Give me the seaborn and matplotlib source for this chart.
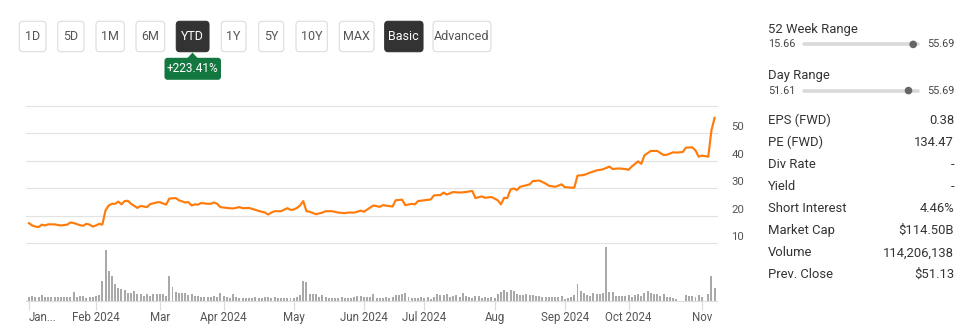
import matplotlib
matplotlib.use("Agg")
import matplotlib.pyplot as plt
import matplotlib.transforms as mtransforms
from matplotlib.patches import FancyBboxPatch, Polygon, Circle
from matplotlib import font_manager
import seaborn as sns

# ---------------- data ----------------
price_day = [0, 1, 2, 3, 4, 5, 6, 8, 10, 12, 13, 14, 16, 17, 18, 19, 20, 21, 22, 23,
             24, 25, 26, 27, 28, 29, 30, 31, 32, 34, 35, 37, 38, 40, 41, 43, 44, 46, 47, 49,
             50, 51, 52, 53, 54, 56, 57, 58, 59, 60, 62, 64, 66, 67, 69, 71, 72, 74, 75, 76,
             77, 79, 81, 82, 83, 84, 85, 86, 87, 88, 90, 92, 93, 95, 97, 99, 100, 102, 104, 105,
             108, 110, 111, 114, 115, 117, 118, 120, 121, 122, 124, 126, 127, 129, 130, 131, 133, 135, 137, 139,
             140, 142, 143, 145, 147, 148, 149, 150, 151, 152, 153, 154, 157, 158, 160, 162, 163, 165, 167, 168,
             170, 171, 172, 174, 176, 178, 180, 182, 183, 185, 187, 188, 189, 191, 192, 193, 195, 197, 199, 200,
             202, 203, 205, 206, 208, 209, 210, 211, 213, 214, 215]
price = [17.22, 16.4, 16.0, 15.8, 16.7, 16.4, 16.8, 16.8, 16.4, 16.7, 17.5, 17.3, 16.5, 16.3, 17.0, 16.7, 16.0, 16.4, 17.0, 16.7,
         21.9, 23.7, 24.3, 24.3, 25.1, 24.1, 25.3, 25.4, 24.3, 22.8, 23.5, 23.1, 24.2, 24.8, 24.9, 24.0, 26.2, 26.4, 25.6, 24.8,
         24.9, 23.7, 24.1, 24.0, 24.6, 24.3, 24.3, 24.8, 24.3, 23.1, 22.8, 22.6, 23.1, 22.7, 22.8, 22.1, 21.7, 21.1, 20.4, 21.1,
         21.6, 21.6, 22.7, 22.1, 22.2, 22.8, 23.7, 25.3, 21.6, 21.4, 20.5, 21.1, 21.6, 21.6, 21.1, 20.9, 21.1, 21.1, 21.8, 21.4,
         23.7, 23.2, 23.8, 23.3, 25.6, 25.8, 23.8, 24.3, 24.1, 25.3, 25.6, 25.9, 27.4, 27.5, 28.4, 27.7, 28.6, 28.4, 28.6, 29.0,
         26.4, 27.0, 26.5, 26.8, 25.6, 24.1, 26.5, 26.4, 29.5, 29.9, 29.3, 30.5, 31.4, 32.6, 32.8, 31.7, 30.9, 30.5, 31.4, 30.4,
         30.2, 30.2, 34.6, 34.8, 35.7, 36.5, 36.9, 37.9, 37.0, 37.2, 37.0, 36.7, 37.9, 39.8, 38.9, 42.0, 43.6, 43.6, 42.1, 42.2,
         43.1, 43.0, 43.2, 44.8, 44.9, 43.8, 41.5, 41.9, 41.5, 51.13, 55.69]

# volume, millions of shares, one value per trading day
vol_jan = [31, 43, 37, 31, 49, 37, 34, 37, 31, 31, 34, 31, 34, 37, 77, 37, 43, 43, 29, 37, 37]
vol_feb = [43, 52, 175, 439, 258, 215, 146, 109, 100, 97, 72, 66, 89, 60, 60, 43, 57, 43, 60, 60]
vol_mar = [60, 60, 43, 215, 118, 80, 66, 72, 66, 49, 60, 46, 46, 37, 37, 32, 32, 43, 37, 72]
vol_apr = [43, 32, 26, 60, 37, 29, 26, 23, 26, 29, 34, 29, 26, 32, 34, 29, 34, 26, 29, 23, 26, 29]
vol_may = [23, 32, 52, 175, 166, 60, 57, 60, 37, 52, 37, 29, 29, 26, 29, 32, 26, 23, 26, 37, 43, 43]
vol_jun = [32, 32, 37, 57, 26, 29, 26, 34, 29, 37, 49, 52, 57, 66, 32, 26, 29, 29, 32]
vol_jul = [26, 32, 20, 37, 57, 52, 49, 60, 32, 43, 52, 37, 66, 43, 37, 26, 43, 40, 26, 32, 26, 32]
vol_aug = [26, 57, 80, 95, 75, 95, 86, 60, 52, 49, 57, 49, 49, 43, 46, 34, 37, 34, 32, 37, 37, 40]
vol_sep = [20, 23, 37, 52, 146, 89, 72, 52, 43, 66, 60, 60, 66, 467, 80, 80, 43, 43, 43, 43]
vol_oct = [52, 37, 52, 60, 43, 66, 89, 66, 60, 60, 43, 60, 37, 32, 23, 20, 0, 0, 52, 43, 43, 37, 52]
vol_nov = [32, 0, 60, 215, 114]
volume = vol_jan + vol_feb + vol_mar + vol_apr + vol_may + vol_jun + vol_jul + vol_aug + vol_sep + vol_oct + vol_nov
vol_day = list(range(len(volume)))

month_ticks = [0, 21, 41, 61, 83, 105, 124, 146, 168, 188, 211]
month_labels = ["Jan...", "Feb 2024", "Mar", "Apr 2024", "May", "Jun 2024", "Jul 2024",
                "Aug", "Sep 2024", "Oct 2024", "Nov"]
price_labels = [10, 20, 30, 40, 50]
grid_levels = [10, 20, 30, 40, 50, 60]

buttons = ["1D", "5D", "1M", "6M", "YTD", "1Y", "5Y", "10Y", "MAX", "Basic", "Advanced"]
active_buttons = ["YTD", "Basic"]
ytd_change = "+223.41%"

range_titles = ["52 Week Range", "Day Range"]
range_low = [15.66, 51.61]
range_high = [55.69, 55.69]
range_mark = [54.0, 55.35]

stat_labels = ["EPS (FWD)", "PE (FWD)", "Div Rate", "Yield", "Short Interest",
               "Market Cap", "Volume", "Prev. Close"]
stat_values = ["0.38", "134.47", "-", "-", "4.46%", "$114.50B", "114,206,138", "$51.13"]

# ---------------- style ----------------
plt.rcParams['font.family'] = ['Roboto', 'DejaVu Sans']
names = {f.name for f in font_manager.fontManager.ttflist}
if 'Liberation Sans Narrow' in names:
    BTN_FONT, BTN_SIZE, BADGE_SIZE = ['Liberation Sans Narrow', 'DejaVu Sans'], 9.6, 9.6
else:
    BTN_FONT, BTN_SIZE, BADGE_SIZE = ['Roboto', 'DejaVu Sans'], 9.0, 8.6

W, H = 968, 331
fig = plt.figure(figsize=(W / 100, H / 100), dpi=100)
fig.patch.set_facecolor('white')


def rect(x0, y0, x1, y1):
    return [x0 / W, 1 - y1 / H, (x1 - x0) / W, (y1 - y0) / H]


PX0 = 29.0      # pixel of day 0
PXD = 3.189     # pixels per trading day
XMIN = (26 - PX0) / PXD
XMAX = (716.7 - PX0) / PXD

# ---- overlay (buttons + stats panel) ----
ov = fig.add_axes([0, 0, 1, 1])
ov.set_xlim(0, W)
ov.set_ylim(H, 0)
ov.axis('off')

btn_x = [19.3, 57.7, 96, 136, 176.3, 221.3, 258.7, 296, 339.3, 384.7, 433]
btn_r = [46, 84, 124.3, 164.7, 209, 246, 283.7, 327.3, 374, 423, 491]
for name, x0, x1 in zip(buttons, btn_x, btn_r):
    act = name in active_buttons
    p = FancyBboxPatch((x0, 21.3), x1 - x0, 30.4,
                       boxstyle="round,pad=0,rounding_size=3.5",
                       facecolor='#333333' if act else 'white',
                       edgecolor='#333333' if act else '#dcdcdc', linewidth=0.8)
    ov.add_patch(p)
    ov.text((x0 + x1) / 2, 36.5, name, ha='center', va='center',
            fontsize=BTN_SIZE, family=BTN_FONT,
            color='white' if act else '#555555')

# badge
ov.add_patch(Polygon([(187.3, 58.2), (197.7, 58.2), (192.5, 52.6)], closed=True,
                     facecolor='#13783f', edgecolor='none'))
ov.add_patch(FancyBboxPatch((164.5, 57.8), 56.5, 22, boxstyle="round,pad=0,rounding_size=3",
                            facecolor='#13783f', edgecolor='none'))
ov.text(192.7, 68.8, ytd_change, ha='center', va='center', fontsize=BADGE_SIZE,
        family=BTN_FONT, color='white')

# range sliders
LX, RX = 768, 954
TR0, TR1 = 804, 918
for i, (t, lo, hi, mk) in enumerate(zip(range_titles, range_low, range_high, range_mark)):
    ty = 29.5 + i * 45.5
    ry = 44.4 + i * 46.2
    ov.text(LX, ty, t, ha='left', va='center', fontsize=9.4, color='#333333')
    ov.text(LX, ry, f"{lo:.2f}", ha='left', va='center', fontsize=7.8, color='#444444')
    ov.text(RX, ry, f"{hi:.2f}", ha='right', va='center', fontsize=7.8, color='#444444')
    ov.plot([TR0, TR1], [ry, ry], color='#d9d9d9', lw=2.6, solid_capstyle='round')
    frac = (mk - lo) / (hi - lo)
    ov.add_patch(Circle((TR0 + frac * (TR1 - TR0), ry), 3.8, facecolor='#666666',
                        edgecolor='none', zorder=3))

for i, (lab, val) in enumerate(zip(stat_labels, stat_values)):
    y = 120.8 + i * 22.0
    ov.text(LX, y, lab, ha='left', va='center', fontsize=9.4, color='#333333')
    ov.text(RX, y, val, ha='right', va='center', fontsize=9.4, color='#333333')

# ---- price pane ----
axp = fig.add_axes(rect(26, 106, 716.7, 243))
axp.set_xlim(XMIN, XMAX)
axp.set_ylim(10, 60)
for g in grid_levels:
    axp.axhline(g, color='#e2e2e2', lw=0.85, zorder=0, clip_on=False)
sns.lineplot(x=price_day, y=price, ax=axp, color='#ff7b0a', linewidth=1.55, zorder=3)
axp.set_xlim(XMIN, XMAX)
axp.set_ylim(10, 60)
axp.axis('off')
bt = mtransforms.blended_transform_factory(axp.transAxes, axp.transData)
for v in price_labels:
    axp.text(1.021, v + 2.2, str(v), transform=bt, ha='left', va='center',
             fontsize=8.2, color='#555555')

# ---- volume pane ----
axv = fig.add_axes(rect(26, 243, 716.7, 301))
sns.barplot(x=vol_day, y=volume, native_scale=True, color='#a9a9a9', saturation=1,
            width=0.62, errorbar=None, linewidth=0, ax=axv)
axv.set_xlim(XMIN, XMAX)
axv.set_ylim(0, 500)
axv.set_facecolor('none')
for s in ['top', 'right', 'left']:
    axv.spines[s].set_visible(False)
axv.spines['bottom'].set_color('#dddddd')
axv.spines['bottom'].set_linewidth(0.85)
axv.set_yticks([])
axv.set_xticks(month_ticks)
axv.set_xticklabels(month_labels)
axv.tick_params(axis='x', length=6.5, width=0.85, color='#dddddd', pad=0.5,
                labelsize=8.3, labelcolor='#555555')
axv.get_xticklabels()[0].set_ha('left')
axv.set_xlabel('')
axv.set_ylabel('')

fig.savefig('out.png', dpi=100, facecolor='white')
